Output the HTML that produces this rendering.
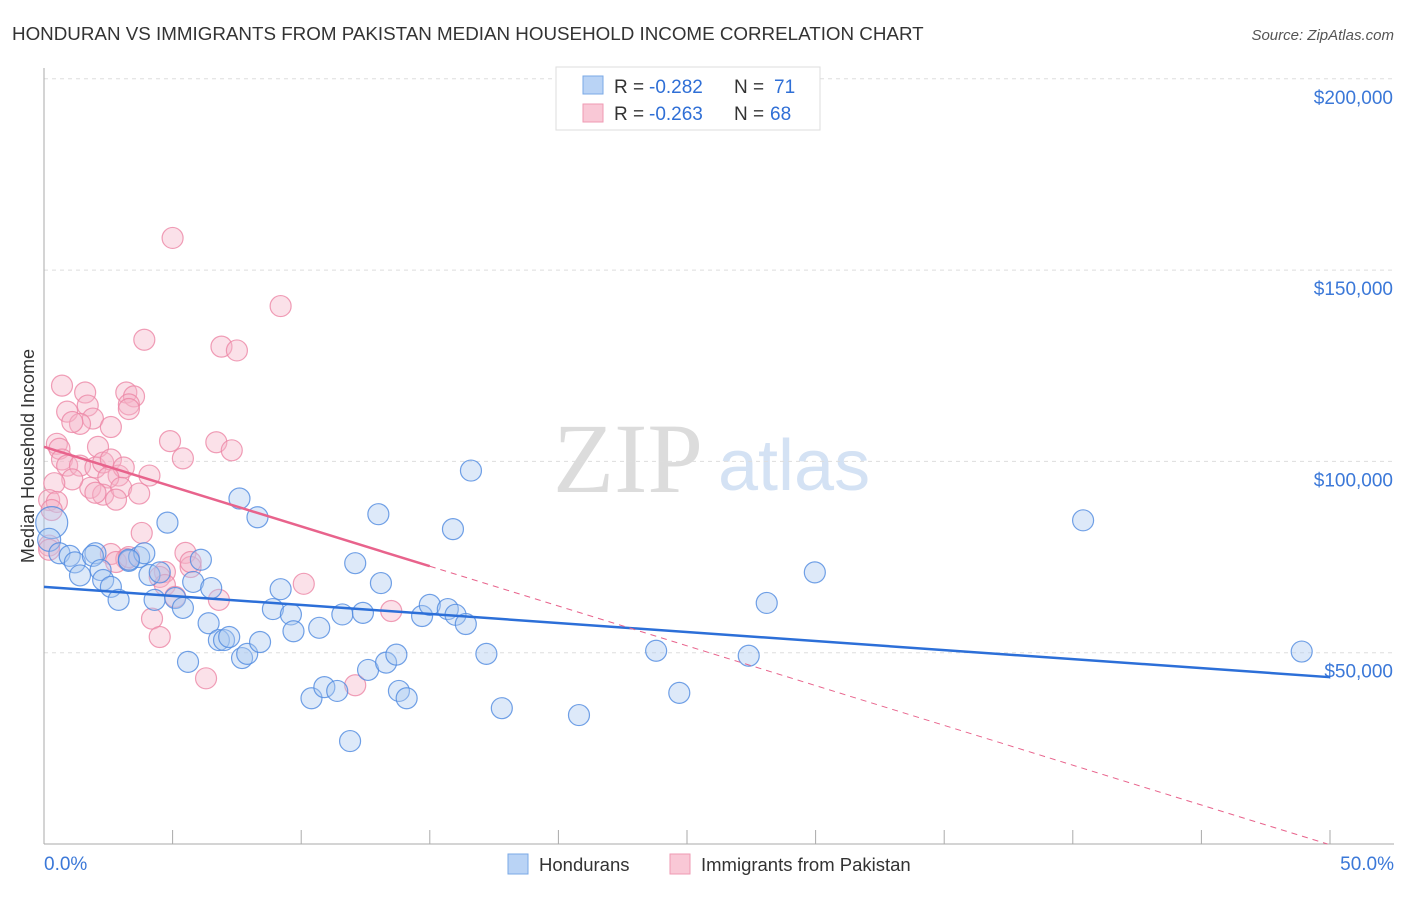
<!DOCTYPE html>
<html><head><meta charset="utf-8"><style>
body{margin:0;background:#fff;font-family:"Liberation Sans",sans-serif;}
svg text{font-family:"Liberation Sans",sans-serif;}
</style></head><body>
<svg id="chart" width="1406" height="892" xmlns="http://www.w3.org/2000/svg">
<text x="12" y="40" font-size="18.8" fill="#333">HONDURAN VS IMMIGRANTS FROM PAKISTAN MEDIAN HOUSEHOLD INCOME CORRELATION CHART</text>
<text x="1394" y="40" font-size="15" fill="#555" text-anchor="end" font-style="italic">Source: ZipAtlas.com</text>
<g>
<text x="553" y="492" font-size="100" fill="#dcdcdc" font-family="Liberation Serif" style="font-family:'Liberation Serif',serif">ZIP</text>
<text x="718" y="490" font-size="72" fill="#d4e2f4">atlas</text>
</g>
<g id="grid"></g>
<g id="axes"></g>
<g id="marks"></g>
<text transform="translate(34,456) rotate(-90)" font-size="18" fill="#333" text-anchor="middle">Median Household Income</text>
<g>
<rect x="556" y="67" width="264" height="63" fill="#fff" stroke="#ddd"/>
<rect x="583" y="76" width="20" height="18" fill="#b9d3f5" stroke="#7aa8e6"/>
<rect x="583" y="104" width="20" height="18" fill="#f9c8d6" stroke="#ef9ab3"/>
<g font-size="19" fill="#333">
<text x="614" y="93">R =</text><text x="649" y="93" fill="#2f6fd6">-0.282</text><text x="734" y="93">N =</text><text x="774" y="93" fill="#2f6fd6">71</text>
</g>
<g font-size="19" fill="#333">
<text x="614" y="120">R =</text><text x="649" y="120" fill="#2f6fd6">-0.263</text><text x="734" y="120">N =</text><text x="770" y="120" fill="#2f6fd6">68</text>
</g>
</g>
<g>
<rect x="508" y="854" width="20" height="20" fill="#b9d3f5" stroke="#7aa8e6"/>
<text x="539" y="871" font-size="18.5" fill="#333">Hondurans</text>
<rect x="670" y="854" width="20" height="20" fill="#f9c8d6" stroke="#ef9ab3"/>
<text x="701" y="871" font-size="18.5" fill="#333">Immigrants from Pakistan</text>
</g>
</svg>
<script>
const yTicks=[50000,100000,150000,200000];
const yTickLabels=["$50,000","$100,000","$150,000","$200,000"];
const xEnds=["0.0%","50.0%"];
const honduransX=[0.3,0.2,0.6,1.0,2.0,1.2,1.4,1.9,2.2,2.3,2.6,2.9,3.3,3.7,3.9,3.3,4.1,4.5,4.3,4.8,5.1,5.4,5.6,5.8,6.1,6.4,6.5,6.8,7.0,7.2,7.6,7.7,7.9,8.3,8.4,8.9,9.2,9.6,9.7,10.4,10.7,10.9,11.4,11.6,11.9,12.1,12.4,12.6,13.0,13.1,13.3,13.7,13.8,14.1,14.7,15.0,15.7,15.9,16.0,16.4,16.6,17.2,17.8,20.8,23.8,24.7,27.4,28.1,29.97,40.4,48.9];
const honduransY=[84,79.5,76,75.3,76,73.6,70.2,75.3,71.6,69,67.2,63.8,74,75,76,74.3,70.3,71,63.8,84,64.3,61.7,47.6,68.5,74.3,57.7,66.9,53.3,53.3,54.1,90.3,48.6,49.7,85.4,52.8,61.4,66.6,60,55.6,38.1,56.5,41,40,60,26.9,73.4,60.4,45.5,86.2,68.2,47.4,49.5,40,38.1,59.6,62.5,61.4,82.3,59.9,57.5,97.6,49.7,35.5,33.7,50.5,39.5,49.2,63,71,84.6,50.3];
const pakistanX=[5.0,9.2,3.9,6.9,7.5,0.7,1.6,3.2,3.5,3.3,1.7,0.9,1.9,3.3,1.4,1.1,2.6,0.5,0.6,2.1,4.9,6.7,7.3,5.4,0.7,0.9,1.4,2.0,2.3,2.6,2.9,3.1,2.5,4.1,1.8,2.3,3.0,1.1,2.0,2.8,3.7,0.4,0.2,0.5,0.3,3.8,0.2,2.6,3.2,2.8,5.5,5.7,4.7,4.5,4.7,5.1,6.8,10.1,13.5,4.2,4.5,6.3,12.1,3.3,0.2,5.7];
const pakistanY=[158.4,140.6,131.8,130,129,119.8,118,118,117,114.9,114.6,113,111.2,113.7,109.8,110.3,109,104.6,103.3,103.8,105.3,105,102.9,100.8,100.5,98.9,98.9,98.4,99.7,100.5,96.3,98.4,95.8,96.3,93.1,91.3,93.1,95.3,91.8,90,91.6,94.3,89.9,89.4,87.3,81.3,78,75.8,74.5,73.7,76.1,72.4,71.1,69.8,67.7,64.6,63.8,68,60.9,58.9,54.1,43.3,41.5,75,76.9,73.7];
const honduransTrend=[67.2,43.6];
const pakistanTrend=[103.8,-2.08]; // intercept ($k) and slope ($k per %)
const solidEnd=15;

const NS="http://www.w3.org/2000/svg";
const X0=44,X1=1330,YB=844,PX_PER_K=3.826;
const sx=v=>X0+(X1-X0)*v/50;
const sy=k=>YB-k*PX_PER_K;
function el(t,a,p){const e=document.createElementNS(NS,t);for(const k in a)e.setAttribute(k,a[k]);p.appendChild(e);return e;}
const grid=document.getElementById('grid'),axes=document.getElementById('axes'),marks=document.getElementById('marks');
yTicks.forEach((v,i)=>{
 const y=sy(v/1000);
 const g=el('line',{x1:X0,x2:1394,y1:y,y2:y,stroke:'#ddd','stroke-dasharray':'4,4'},grid);
 
 
 const t=el('text',{x:1393,y:y+25,'font-size':19,fill:'#3b78d8','text-anchor':'end'},axes);
 t.textContent=yTickLabels[i];
 
 
});
const ax=el('line',{x1:X0,x2:X0,y1:68,y2:YB,stroke:'#aaa'},axes);


const bx=el('line',{x1:X0,x2:1394,y1:YB,y2:YB,stroke:'#aaa'},axes);


for(let i=0;i<=10;i++){const x=sx(i*5);const tk=el('line',{x1:x,x2:x,y1:YB,y2:YB-14,stroke:'#aaa'},axes);
 
 }
[[0,'start',44],[50,'end',1394]].forEach((d,i)=>{const t=el('text',{x:d[2],y:870,'font-size':19,fill:'#3b78d8','text-anchor':d[1]},axes);t.textContent=xEnds[i];
 
 });
function pts(xs,ys,fill,stroke,name){xs.forEach((x,i)=>{
 const big=(name==='honduran-point'&&i<2);
 const c=el('circle',{cx:sx(x),cy:sy(ys[i]),r:big?(i==0?16:11.5):10.5,fill:fill,'fill-opacity':0.4,stroke:stroke,'stroke-opacity':0.8,'stroke-width':1.2},marks);
 
 });}
pts(pakistanX,pakistanY,'#f6b3c7','#ec86a5','pakistan-point');
pts(honduransX,honduransY,'#a9c8f0','#4f8ae0','honduran-point');
const bl=el('line',{x1:sx(0),y1:sy(honduransTrend[0]),x2:sx(50),y2:sy(honduransTrend[1]),stroke:'#2c6fd8','stroke-width':2.5},marks);


const pv=x=>pakistanTrend[0]+pakistanTrend[1]*x;
const xz=Math.min(50,-pakistanTrend[0]/pakistanTrend[1]);
const pl=el('line',{x1:sx(0),y1:sy(pv(0)),x2:sx(solidEnd),y2:sy(pv(solidEnd)),stroke:'#e8638c','stroke-width':2.5},marks);


const pd=el('line',{x1:sx(solidEnd),y1:sy(pv(solidEnd)),x2:sx(xz),y2:sy(pv(xz)),stroke:'#e8638c','stroke-width':1,'stroke-dasharray':'6,5'},marks);


</script>
</body></html>
